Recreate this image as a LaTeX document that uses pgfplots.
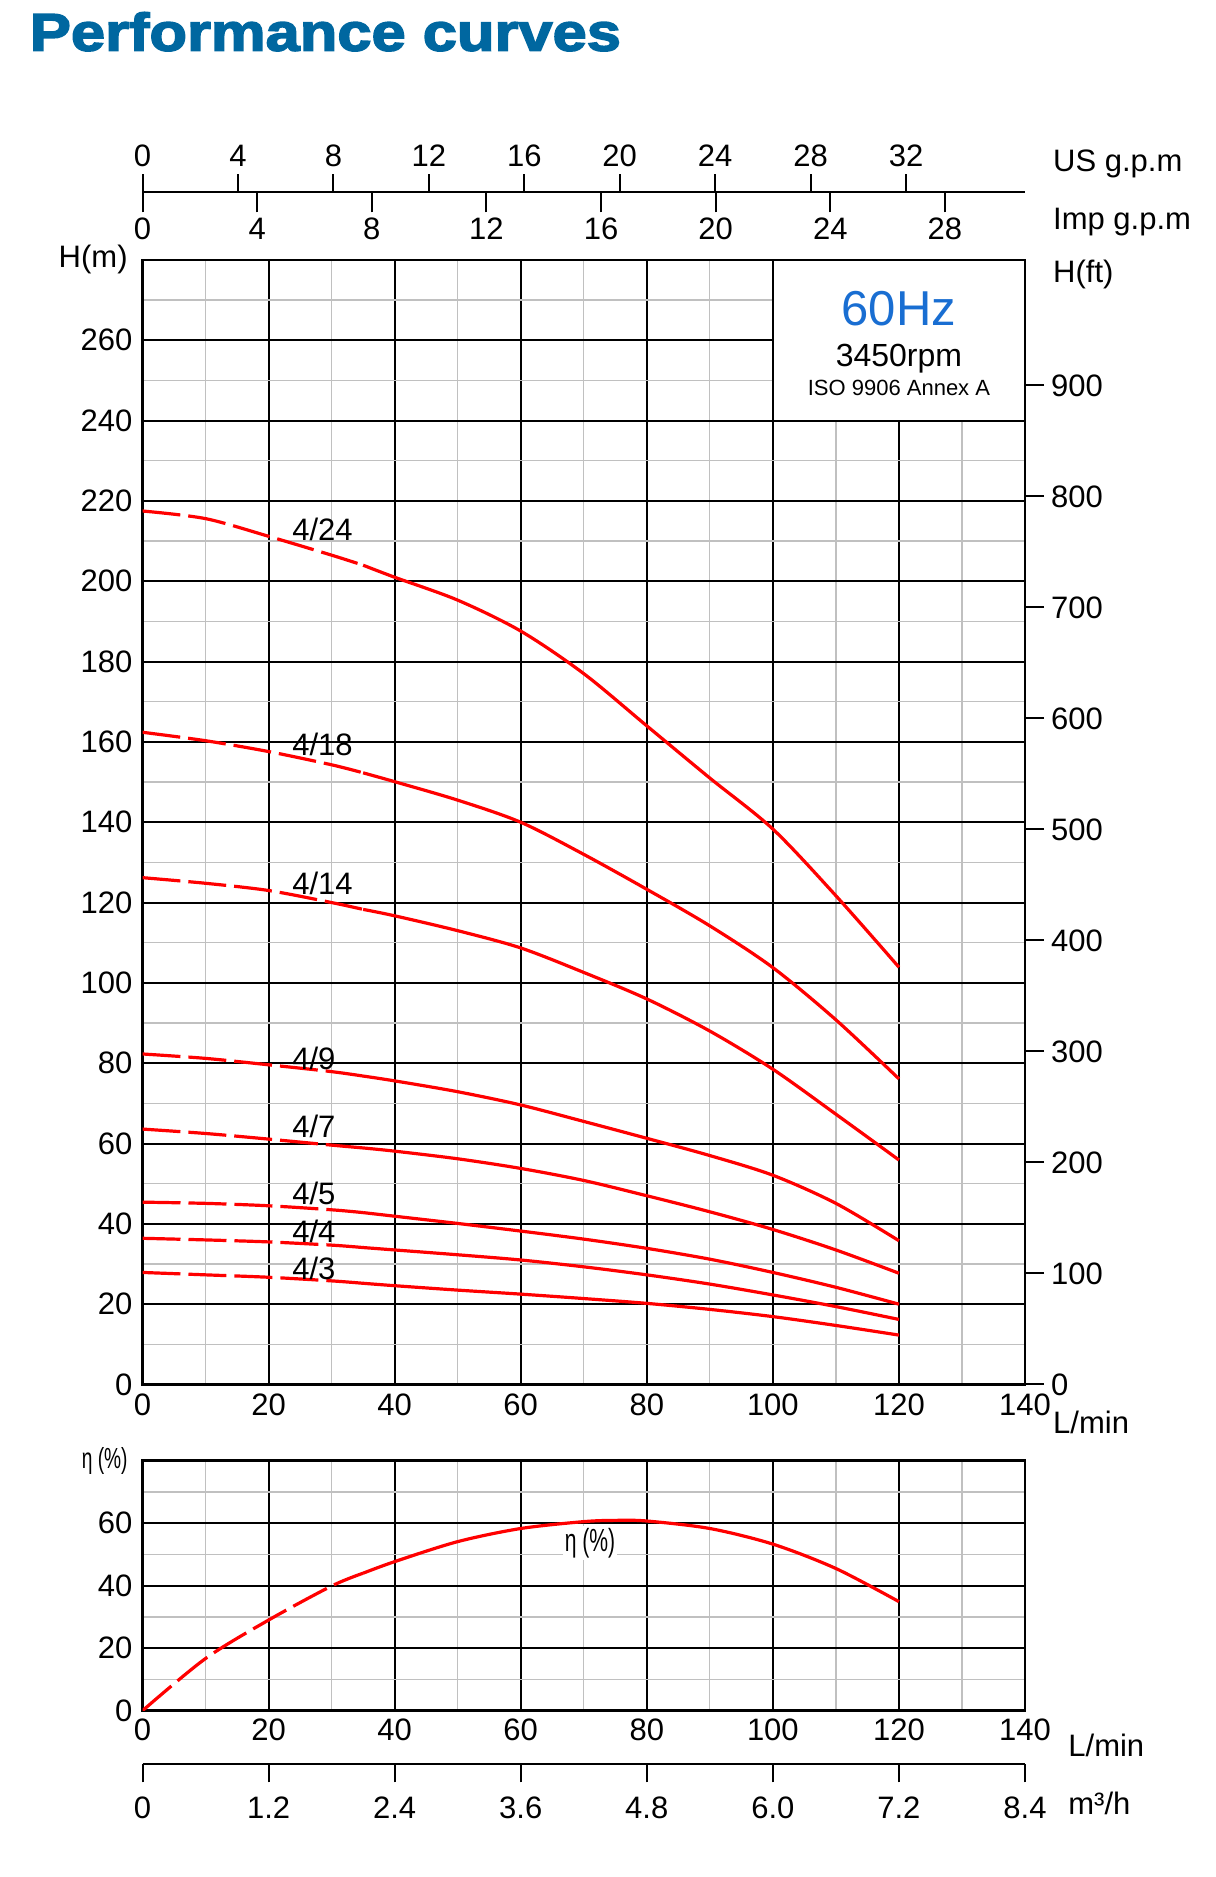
\documentclass[border=0pt]{standalone}
\usepackage{fontspec}
\setmainfont{Liberation Sans}
\newfontfamily\titlefont[FakeStretch=1.16,FakeBold=3]{Liberation Sans Bold}
\newfontfamily\narrowfont[FakeStretch=0.66]{Liberation Sans}
\usepackage{pgfplots}
\usepackage{pgfplotstable}
\pgfplotsset{compat=1.18}
\definecolor{titleblue}{RGB}{0,103,160}
\definecolor{hzblue}{RGB}{25,110,210}
\definecolor{cred}{RGB}{255,0,0}
\definecolor{gridgray}{RGB}{192,192,192}
\newcommand\tfont{\fontsize{15.5}{18}\selectfont}

\pgfplotstableread{
Q H
0 217.5
10 215.6
20 211.2
30 206.5
35 204.0
40 201.0
50 195.3
60 187.6
70 177.0
80 164.0
90 151.0
100 138.3
110 121.7
120 103.9
}\tA
\pgfplotstableread{
Q H
0 162.4
10 160.3
20 157.6
30 154.3
35 152.3
40 150.1
50 145.5
60 140.0
70 132.0
80 123.3
90 114.2
100 103.8
110 90.8
120 76.1
}\tB
\pgfplotstableread{
Q H
0 126.2
10 124.8
20 123.0
30 120.0
35 118.3
40 116.7
50 113.0
60 108.7
70 102.6
80 96.0
90 88.0
100 78.5
110 67.3
120 55.9
}\tC
\pgfplotstableread{
Q H
0 82.3
10 81.2
20 79.6
30 77.9
35 76.8
40 75.6
50 72.9
60 69.6
70 65.5
80 61.3
90 57.0
100 52.1
110 45.1
120 35.8
}\tD
\pgfplotstableread{
Q H
0 63.6
10 62.5
20 61.1
30 59.6
35 58.9
40 58.1
50 56.2
60 53.8
70 50.8
80 47.0
90 43.0
100 38.6
110 33.5
120 27.7
}\tE
\pgfplotstableread{
Q H
0 45.4
10 45.1
20 44.5
30 43.5
35 42.8
40 41.9
50 40.1
60 38.2
70 36.2
80 33.9
90 31.2
100 27.9
110 24.2
120 20.0
}\tF
\pgfplotstableread{
Q H
0 36.4
10 36.0
20 35.5
30 34.7
35 34.1
40 33.5
50 32.3
60 31.0
70 29.3
80 27.3
90 25.0
100 22.3
110 19.4
120 16.2
}\tG
\pgfplotstableread{
Q H
0 27.9
10 27.3
20 26.7
30 25.8
35 25.2
40 24.6
50 23.5
60 22.5
70 21.4
80 20.2
90 18.7
100 16.9
110 14.7
120 12.3
}\tH
\pgfplotstableread{
Q E
0 0
10 16.7
20 29.0
30 39.9
35 44.0
40 47.7
50 54.1
60 58.3
70 60.5
75 60.9
80 60.7
90 58.3
100 53.3
110 45.5
120 34.9
}\tEff

\pgfplotsset{
  gridaxis/.style={
    scale only axis, width=441.25pt, xmin=0, xmax=140,
    /pgf/number format/assume math mode=true,
    tick label style={font=\tfont},
    axis line style={line width=1.35pt},
    grid=both,
    major grid style={black, line width=1pt},
    minor grid style={gridgray, line width=0.65pt},
    xtick={0,20,...,140}, minor xtick={10,30,...,130},
    major tick length=0pt, minor tick length=0pt,
    axis on top=false,
  },
  scaleaxis/.style={
    scale only axis, width=441.25pt, height=1pt, ymin=0, ymax=1,
    axis y line=none,
    /pgf/number format/assume math mode=true,
    tick label style={font=\tfont},
    major tick style={black, line width=1pt},
    minor tick num=0,
  },
  noarrows/.style={
    axis line style={-, line width=1.1pt},
    every outer x axis line/.append style={-},
    every inner x axis line/.append style={-},
    every outer y axis line/.append style={-},
    every inner y axis line/.append style={-},
    x axis line style={-},
    y axis line style={-},
  },
  dashedpart/.style={cred, line width=1.6pt, smooth, dash pattern=on 19pt off 4pt, restrict x to domain=0:35},
  solidpart/.style={cred, line width=1.6pt, smooth, restrict x to domain=35:120},
}

\begin{document}
\begin{tikzpicture}
\useasboundingbox (0,0) rectangle (607.5pt,938.5pt);

\node[anchor=base west, inner sep=0, text=titleblue, font=\titlefont\fontsize{26.5}{30}\selectfont] at (14.75pt,913.15pt) {Performance curves};

% US gpm scale
\begin{axis}[scaleaxis, at={(71.25pt,842.35pt)}, anchor=north west,
  axis x line=top, noarrows, xtick pos=upper, xticklabel pos=upper,
  xtick align=outside,
  xmin=0, xmax=36.985, xtick={0,4,...,32}, major tick length=9pt,
  xticklabel shift=0.3pt]
\addplot[draw=none] coordinates {(0,0)};
\end{axis}
% Imp gpm scale
\begin{axis}[scaleaxis, at={(71.25pt,842.35pt)}, anchor=south west,
  axis x line=bottom, noarrows, xtick pos=lower, xticklabel pos=lower,
  xtick align=outside,
  xmin=0, xmax=30.796, xtick={0,4,...,28}, major tick length=10pt,
  xticklabel shift=-0.8pt]
\addplot[draw=none] coordinates {(0,0)};
\end{axis}

% main head chart
\begin{axis}[gridaxis, at={(71.25pt,246.25pt)}, anchor=south west, height=562.25pt,
  ymin=0, ymax=280, ytick={0,20,...,260}, minor ytick={10,30,...,270},
  xticklabel shift=1pt, yticklabel shift=1.5pt]
  \fill[white] (axis cs:100,240) rectangle (axis cs:140,280);
  \draw[black, line width=1pt] (axis cs:100,240) rectangle (axis cs:140,280);
  \addplot[dashedpart] table[x=Q,y=H] {\tA};
  \addplot[solidpart] table[x=Q,y=H] {\tA};
  \addplot[dashedpart] table[x=Q,y=H] {\tB};
  \addplot[solidpart] table[x=Q,y=H] {\tB};
  \addplot[dashedpart] table[x=Q,y=H] {\tC};
  \addplot[solidpart] table[x=Q,y=H] {\tC};
  \addplot[dashedpart] table[x=Q,y=H] {\tD};
  \addplot[solidpart] table[x=Q,y=H] {\tD};
  \addplot[dashedpart] table[x=Q,y=H] {\tE};
  \addplot[solidpart] table[x=Q,y=H] {\tE};
  \addplot[dashedpart] table[x=Q,y=H] {\tF};
  \addplot[solidpart] table[x=Q,y=H] {\tF};
  \addplot[dashedpart] table[x=Q,y=H] {\tG};
  \addplot[solidpart] table[x=Q,y=H] {\tG};
  \addplot[dashedpart] table[x=Q,y=H] {\tH};
  \addplot[solidpart] table[x=Q,y=H] {\tH};
  \node[anchor=west, inner sep=0, font=\tfont] at (axis cs:23.7,212.9) {4/24};
  \node[anchor=west, inner sep=0, font=\tfont] at (axis cs:23.7,159.4) {4/18};
  \node[anchor=west, inner sep=0, font=\tfont] at (axis cs:23.7,124.8) {4/14};
  \node[anchor=west, inner sep=0, font=\tfont] at (axis cs:23.7,81.2) {4/9};
  \node[anchor=west, inner sep=0, font=\tfont] at (axis cs:23.7,64.2) {4/7};
  \node[anchor=west, inner sep=0, font=\tfont] at (axis cs:23.7,47.6) {4/5};
  \node[anchor=west, inner sep=0, font=\tfont] at (axis cs:23.7,38.0) {4/4};
  \node[anchor=west, inner sep=0, font=\tfont] at (axis cs:23.7,28.9) {4/3};
  \node[anchor=base, inner sep=0, text=hzblue, font=\fontsize{24.5}{28}\selectfont] at (axis cs:120,263.8) {60Hz};
  \node[anchor=base, inner sep=0, font=\fontsize{16}{19}\selectfont] at (axis cs:120,253.4) {3450rpm};
  \node[anchor=base, inner sep=0, font=\fontsize{11}{13}\selectfont] at (axis cs:120,246.2) {ISO 9906 Annex A};
\end{axis}

% right ft axis
\begin{axis}[scale only axis, width=441.25pt, height=562.25pt, at={(71.25pt,246.25pt)}, anchor=south west,
  xmin=0, xmax=140, ymin=0, ymax=1013,
  axis x line=none, axis y line=right, noarrows,
  y axis line style={line width=1.35pt},
  ytick={0,100,...,900}, ytick pos=right, ytick align=outside, major tick length=9.5pt,
  major tick style={black, line width=1pt}, minor tick num=0,
  /pgf/number format/assume math mode=true, tick label style={font=\tfont}]
\addplot[draw=none] coordinates {(0,0)};
\end{axis}

% efficiency chart
\begin{axis}[gridaxis, at={(71.25pt,83.15pt)}, anchor=south west, height=125pt,
  ymin=0, ymax=80, ytick={0,20,40,60}, minor ytick={10,30,50,70},
  xticklabel shift=0.5pt, yticklabel shift=1.5pt]
  \addplot[dashedpart] table[x=Q,y=E] {\tEff};
  \addplot[solidpart] table[x=Q,y=E] {\tEff};
  \node[fill=white, inner sep=1pt, font=\narrowfont\fontsize{16}{18}\selectfont] at (axis cs:71,53.7) {η (\%)};
\end{axis}

% m3/h scale
\begin{axis}[scaleaxis, at={(71.25pt,56.65pt)}, anchor=south west,
  axis x line=bottom, noarrows, xtick pos=lower, xticklabel pos=lower,
  xtick align=outside,
  xmin=0, xmax=8.4, xtick={0,1.2,2.4,3.6,4.8,6.0,7.2,8.4},
  xticklabels={0,1.2,2.4,3.6,4.8,6.0,7.2,8.4}, major tick length=9.3pt,
  xticklabel shift=3.75pt]
\addplot[draw=none] coordinates {(0,0)};
\end{axis}

% axis captions
\node[anchor=east, inner sep=0, font=\tfont] at (64pt,808.5pt) {H(m)};
\node[anchor=base west, inner sep=0, font=\tfont] at (526.4pt,852.65pt) {US g.p.m};
\node[anchor=base west, inner sep=0, font=\tfont] at (526.4pt,823.5pt) {Imp g.p.m};
\node[anchor=base west, inner sep=0, font=\tfont] at (526.4pt,797.35pt) {H(ft)};
\node[anchor=base west, inner sep=0, font=\tfont] at (526.4pt,221.85pt) {L/min};
\node[anchor=base west, inner sep=0, font=\tfont] at (534pt,60pt) {L/min};
\node[anchor=base west, inner sep=0, font=\tfont] at (534pt,31pt) {m³/h};
\node[anchor=east, inner sep=0, font=\narrowfont\fontsize{14.5}{16}\selectfont] at (64pt,208pt) {η (\%)};
\end{tikzpicture}
\end{document}
